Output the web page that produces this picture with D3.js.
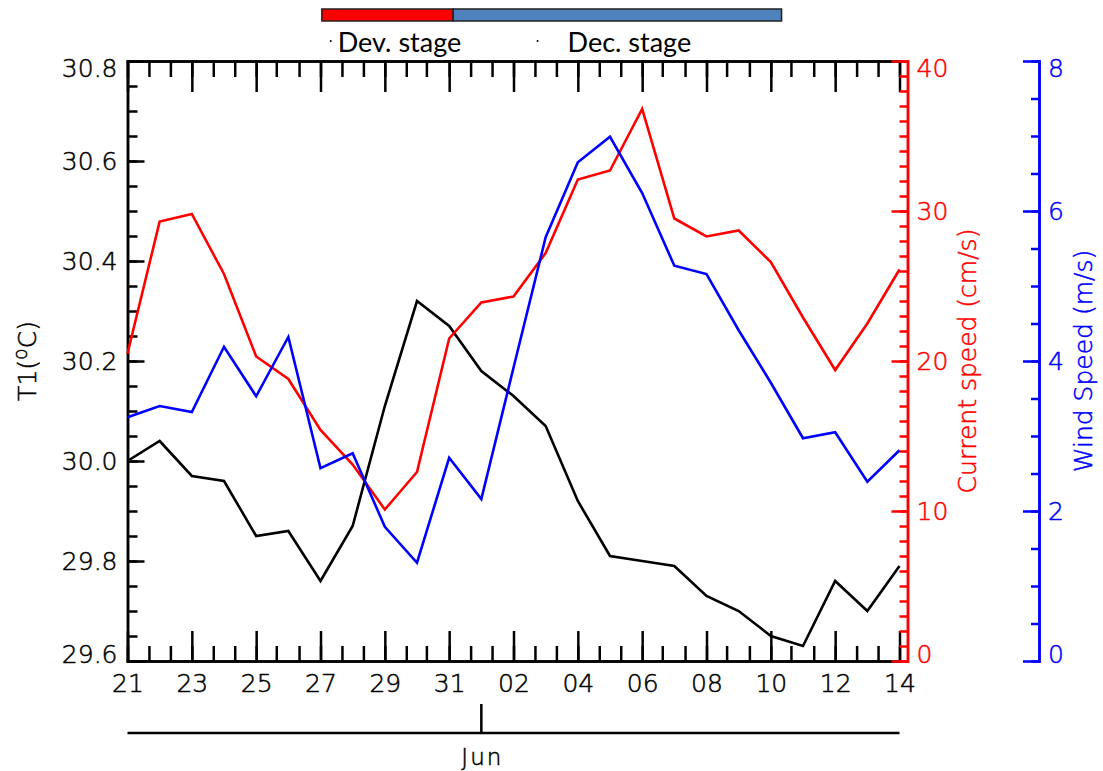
<!DOCTYPE html>
<html>
<head>
<meta charset="utf-8">
<script src="https://cdn.jsdelivr.net/npm/d3@7"></script>
<style>
  body { margin: 0; background: #fff; }
</style>
</head>
<body>
<div id="wrapper"></div>
<script>
// daily values, 21 May -> 14 Jun
const temperature = [30.00, 30.04, 29.97, 29.96, 29.85, 29.86, 29.76, 29.87, 30.11, 30.32,
    30.27, 30.18, 30.13, 30.07, 29.92, 29.81, 29.80, 29.79, 29.73, 29.70,
    29.65, 29.63, 29.76, 29.70, 29.79];
const currentSpeed = [20.5, 29.3, 29.8, 25.8, 20.3, 18.8, 15.4, 13.1, 10.1, 12.6,
    21.5, 23.9, 24.3, 27.2, 32.1, 32.7, 36.8, 29.5, 28.3, 28.7,
    26.6, 22.9, 19.4, 22.5, 26.1];
const windSpeed = [3.25, 3.40, 3.32, 4.19, 3.53, 4.32, 2.57, 2.77, 1.79, 1.31,
    2.71, 2.16, 3.91, 5.65, 6.65, 6.99, 6.24, 5.27, 5.16, 4.41,
    3.71, 2.97, 3.05, 2.39, 2.81];

const xTickLabels = ["21", "23", "25", "27", "29", "31", "02", "04", "06", "08", "10", "12", "14"];
const tempTicks = [29.6, 29.8, 30.0, 30.2, 30.4, 30.6, 30.8];
const currentTicks = [0, 10, 20, 30, 40];
const windTicks = [0, 2, 4, 6, 8];

// stage bar, in days after 21 May
const stageNames = ["Dev. stage", "Dec. stage"];
const stageBounds = [6.05, 10.15, 20.35];
const stageColors = ["#ff0000", "#4f81bd"];

const monthLabel = "Jun";

function buildPlot() {
    const dimension = {
        width: 1103,
        height: 771,
        left: 127.5,
        right: 899.5,
        top: 61,
        bottom: 661
    };
    const font = "DejaVu Sans";
    const weight = 200;

    const start = new Date(2000, 4, 21);
    const dates = temperature.map((d, i) => d3.timeDay.offset(start, i));
    const dayToDate = (n) => d3.timeHour.offset(start, n * 24);

    const svg = d3.select("#wrapper").append("svg")
        .attr("width", dimension.width)
        .attr("height", dimension.height);

    const xScaler = d3.scaleTime()
        .domain([dates[0], dates[dates.length - 1]])
        .range([dimension.left, dimension.right]);
    const yTemp = d3.scaleLinear().domain([29.6, 30.8]).range([dimension.bottom, dimension.top]);
    const yCurrent = d3.scaleLinear().domain([0, 40]).range([dimension.bottom, dimension.top]);
    const yWind = d3.scaleLinear().domain([0, 8]).range([dimension.bottom, dimension.top]);

    const majorDates = dates.filter((d, i) => i % 2 === 0);
    const minorDates = d3.range(0, 24.01, 2 / 3).map(dayToDate);

    // thin vector-like lettering
    function thinText(sel) {
        sel.attr("font-family", font).attr("font-weight", weight)
            .attr("stroke", "currentColor").attr("stroke-width", 0.5);
    }

    function styleAxis(g, color) {
        g.attr("font-family", font).attr("font-size", 25).attr("font-weight", weight).attr("color", color);
        g.selectAll("path, line").attr("stroke-width", 2.5);
        g.selectAll("path").attr("stroke-linecap", "square");
        g.selectAll("text").call(thinText);
    }
    // end labels sit a little inside the axis
    function nudgeEnds(g, lo, hi) {
        g.selectAll(".tick text").attr("dy", d => d === hi ? "0.62em" : d === lo ? "0.04em" : "0.32em");
    }

    // bottom axis
    svg.append("g")
        .attr("transform", `translate(0,${dimension.bottom})`)
        .call(d3.axisBottom(xScaler).tickValues(minorDates).tickSize(-15).tickSizeOuter(0).tickFormat(""))
        .call(styleAxis, "#000");
    svg.append("g")
        .attr("transform", `translate(0,${dimension.bottom})`)
        .call(d3.axisBottom(xScaler).tickValues(majorDates).tickSize(-30).tickSizeOuter(0)
            .tickPadding(13).tickFormat((d, i) => xTickLabels[i]))
        .call(styleAxis, "#000");

    // top axis
    svg.append("g")
        .attr("transform", `translate(0,${dimension.top})`)
        .call(d3.axisTop(xScaler).tickValues(minorDates).tickSize(-16).tickSizeOuter(0).tickFormat(""))
        .call(styleAxis, "#000");
    svg.append("g")
        .attr("transform", `translate(0,${dimension.top})`)
        .call(d3.axisTop(xScaler).tickValues(majorDates).tickSize(-31).tickSizeOuter(0).tickFormat(""))
        .call(styleAxis, "#000");

    // left temperature axis
    svg.append("g")
        .attr("transform", `translate(${dimension.left},0)`)
        .call(d3.axisLeft(yTemp).tickValues(d3.range(29.6, 30.81, 0.05)).tickSize(-10).tickSizeOuter(0).tickFormat(""))
        .call(styleAxis, "#000");
    svg.append("g")
        .attr("transform", `translate(${dimension.left},0)`)
        .call(d3.axisLeft(yTemp).tickValues(tempTicks).tickSize(-17).tickSizeOuter(0)
            .tickPadding(10).tickFormat(d3.format(".1f")))
        .call(styleAxis, "#000")
        .call(nudgeEnds, 29.6, 30.8);

    // right current axis
    const xCurrentAxis = 907.5;
    svg.append("g")
        .attr("transform", `translate(${xCurrentAxis},0)`)
        .call(d3.axisRight(yCurrent).tickValues(d3.range(0, 41, 1)).tickSize(-8).tickSizeOuter(0).tickFormat(""))
        .call(styleAxis, "#ff0000");
    svg.append("g")
        .attr("transform", `translate(${xCurrentAxis},0)`)
        .call(d3.axisRight(yCurrent).tickValues(currentTicks).tickSize(-16).tickSizeOuter(0).tickPadding(9))
        .call(styleAxis, "#ff0000")
        .call(nudgeEnds, 0, 40);

    // right wind axis
    const xWindAxis = 1039;
    svg.append("g")
        .attr("transform", `translate(${xWindAxis},0)`)
        .call(d3.axisRight(yWind).tickValues(d3.range(0, 8.01, 0.5)).tickSize(-8).tickSizeOuter(0).tickFormat(""))
        .call(styleAxis, "#0000ff");
    svg.append("g")
        .attr("transform", `translate(${xWindAxis},0)`)
        .call(d3.axisRight(yWind).tickValues(windTicks).tickSize(-16).tickSizeOuter(0).tickPadding(9))
        .call(styleAxis, "#0000ff")
        .call(nudgeEnds, 0, 8);

    // axis titles
    const midY = (dimension.top + dimension.bottom) / 2;
    const t1 = svg.append("text")
        .attr("transform", `translate(36,${midY}) rotate(-90)`)
        .attr("text-anchor", "middle")
        .attr("font-size", 25).attr("color", "#000").attr("fill", "#000")
        .call(thinText);
    t1.append("tspan").text("T1(");
    t1.append("tspan").attr("font-size", 19).attr("dy", -9).text("o");
    t1.append("tspan").attr("dy", 9).text("C)");

    svg.append("text")
        .attr("transform", `translate(976,${midY}) rotate(-90)`)
        .attr("text-anchor", "middle")
        .attr("font-size", 25).attr("color", "#ff0000").attr("fill", "#ff0000")
        .call(thinText)
        .text("Current speed (cm/s)");
    svg.append("text")
        .attr("transform", `translate(1092,${midY}) rotate(-90)`)
        .attr("text-anchor", "middle")
        .attr("font-size", 25).attr("color", "#0000ff").attr("fill", "#0000ff")
        .call(thinText)
        .text("Wind Speed (m/s)");

    // data lines
    const series = [
        { values: temperature, scale: yTemp, color: "#000000" },
        { values: currentSpeed, scale: yCurrent, color: "#ff0000" },
        { values: windSpeed, scale: yWind, color: "#0000ff" }
    ];
    series.forEach(s => {
        const line = d3.line()
            .x((d, i) => xScaler(dates[i]))
            .y(d => s.scale(d));
        svg.append("path")
            .datum(s.values)
            .attr("d", line)
            .attr("fill", "none")
            .attr("stroke", s.color)
            .attr("stroke-width", 2.6)
            .attr("stroke-linejoin", "miter");
    });

    // month bar under the axis
    const monthStart = d3.timeMonth.ceil(dates[0]);
    svg.append("line")
        .attr("x1", dimension.left).attr("x2", dimension.right)
        .attr("y1", 733).attr("y2", 733)
        .attr("stroke", "#000").attr("stroke-width", 2.5);
    svg.append("line")
        .attr("x1", xScaler(monthStart)).attr("x2", xScaler(monthStart))
        .attr("y1", 704).attr("y2", 733)
        .attr("stroke", "#000").attr("stroke-width", 2.5);
    svg.append("text")
        .attr("x", xScaler(monthStart) + 1).attr("y", 765)
        .attr("text-anchor", "middle")
        .attr("font-size", 23).attr("letter-spacing", 2).attr("color", "#000").attr("fill", "#000")
        .call(thinText)
        .text(monthLabel);

    // stage bar on top
    stageNames.forEach((name, i) => {
        const x0 = xScaler(dayToDate(stageBounds[i]));
        const x1 = xScaler(dayToDate(stageBounds[i + 1]));
        svg.append("rect")
            .attr("x", x0).attr("y", 9)
            .attr("width", x1 - x0).attr("height", 12)
            .attr("fill", stageColors[i])
            .attr("stroke", "#222").attr("stroke-width", 1.5);
        const label = svg.append("text")
            .attr("x", (x0 + x1) / 2 + 12).attr("y", 52)
            .attr("text-anchor", "middle")
            .attr("font-family", "Lato").attr("font-size", 27)
            .text(name);
        const box = label.node().getBBox();
        svg.append("circle")
            .attr("cx", box.x - (i === 0 ? 7 : 30)).attr("cy", 41)
            .attr("r", 1).attr("fill", "#000");
    });
}

buildPlot();
</script>
</body>
</html>
